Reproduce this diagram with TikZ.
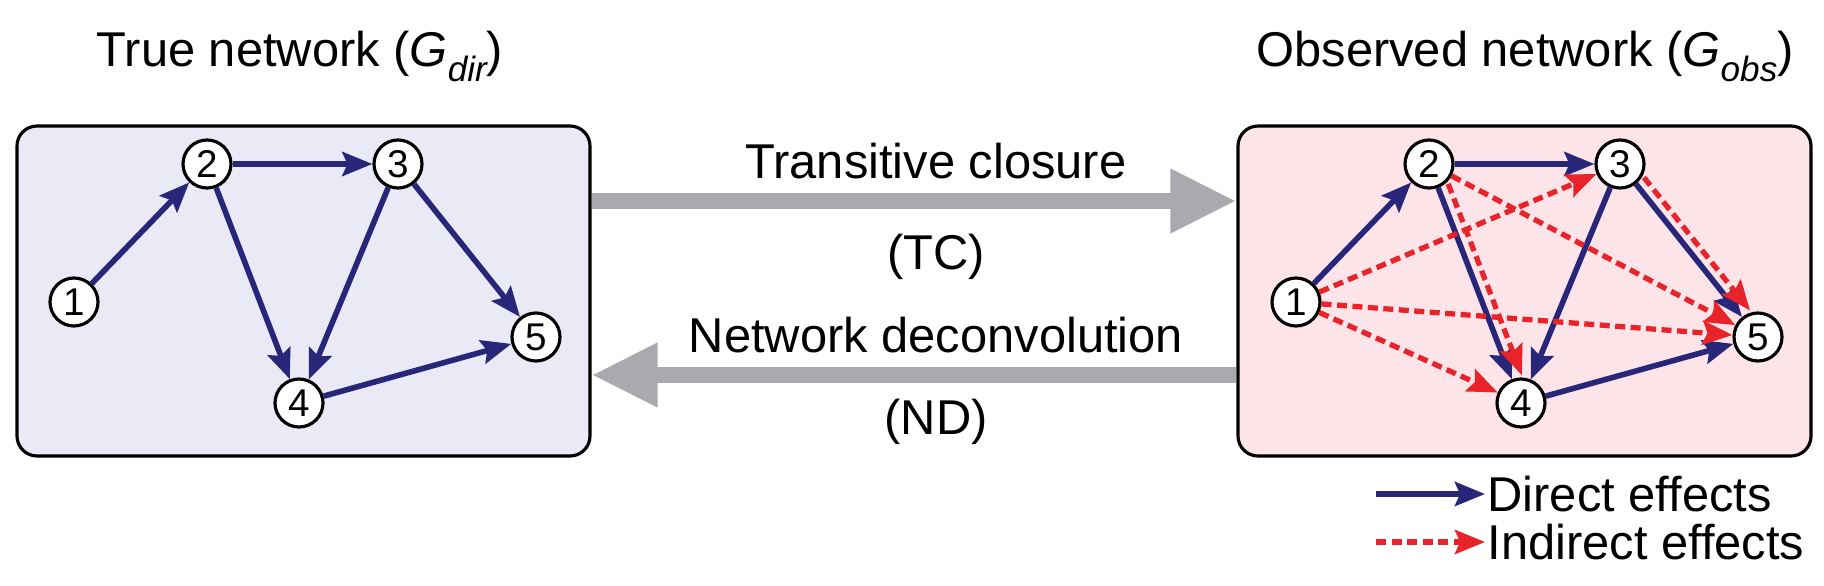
\documentclass[tikz,border=0pt]{standalone}
\usepackage{fontspec}
\setmainfont{Liberation Sans}
\usepackage{tikz}
\usetikzlibrary{arrows.meta,positioning,calc}

\definecolor{navyedge}{RGB}{40,38,120}
\definecolor{rededge}{RGB}{232,36,42}
\definecolor{truefill}{RGB}{234,233,246}
\definecolor{obsfill}{RGB}{252,228,233}
\definecolor{flowgray}{RGB}{168,170,173}
\newcommand{\gsub}[1]{\textit{G}\raisebox{-0.6ex}{\fontsize{10}{10}\selectfont\itshape #1}}

\begin{document}
\begin{tikzpicture}[
    every node/.style={font=\fontsize{13.9}{16}\selectfont},
    vertex/.style={draw, circle, fill=white, line width=0.9pt, inner sep=0pt, minimum size=0.48cm, font=\fontsize{11}{11}\selectfont},
    panel/.style={draw, rounded corners=0.2cm, line width=0.9pt, minimum width=5.73cm, minimum height=3.3cm},
    direct/.style={navyedge, line width=1.6pt, -{Stealth[length=0.3cm, width=0.24cm, inset=0.05cm]}},
    indirect/.style={rededge, line width=1.5pt, dash pattern=on 0.1cm off 0.055cm, -{Stealth[length=0.3cm, width=0.24cm, inset=0.05cm]}},
    bigarrow/.style={flowgray, line width=0.16cm, -{Triangle[length=0.66cm, width=0.6cm]}}]
    \useasboundingbox (0,0) rectangle (18.24,-5.86);

    % the two panels
    \node[panel, fill=truefill] (truebox) at (3.035,-2.91) {};
    \node[panel, fill=obsfill] (obsbox) at (15.245,-2.91) {};
    \node[anchor=base] (truetitle) at (3.0,-0.66) {True network (\gsub{dir})};
    \node[anchor=base] (obstitle) at (15.25,-0.66) {Observed network (\gsub{obs})};

    % TC and ND
    \draw[bigarrow] ([yshift=0.9cm]truebox.east) -- ([yshift=0.9cm]obsbox.west);
    \draw[bigarrow] ([yshift=-0.84cm]obsbox.west) -- ([yshift=-0.84cm]truebox.east);
    \node[anchor=base] (tclabel) at (9.36,-1.78) {Transitive closure};
    \node[anchor=base] (tcshort) at (9.36,-2.69) {(TC)};
    \node[anchor=base] (ndlabel) at (9.36,-3.52) {Network deconvolution};
    \node[anchor=base] (ndshort) at (9.36,-4.34) {(ND)};

    % true network
    \node[vertex] (t1) at (0.74,-3.02) {1};
    \node[vertex] (t2) at (2.07,-1.64) {2};
    \node[vertex] (t3) at (3.98,-1.64) {3};
    \node[vertex] (t4) at (2.99,-4.03) {4};
    \node[vertex] (t5) at (5.36,-3.37) {5};
    \draw[direct] (t1) -- (t2);
    \draw[direct] (t2) -- (t3);
    \draw[direct] (t2) -- (t4);
    \draw[direct] (t3) -- (t4);
    \draw[direct] (t3) -- (t5);
    \draw[direct] (t4) -- (t5);

    % observed network
    \node[vertex] (o1) at (12.96,-3.02) {1};
    \node[vertex] (o2) at (14.29,-1.64) {2};
    \node[vertex] (o3) at (16.20,-1.64) {3};
    \node[vertex] (o4) at (15.21,-4.03) {4};
    \node[vertex] (o5) at (17.58,-3.37) {5};
    \draw[direct] (o1) -- (o2);
    \draw[direct] (o2) -- (o3);
    \draw[direct] (o2) -- (o4);
    \draw[direct] (o3) -- (o4);
    \draw[direct] (o3) -- (o5);
    \draw[direct] (o4) -- (o5);
    \draw[indirect] (o1) -- (o3);
    \draw[indirect] (o1) -- (o4);
    \draw[indirect] (o1) -- (o5);
    \draw[indirect] (o2) -- (o5);
    \draw[indirect, transform canvas={shift={(0.1,0.04)}}] (o2) -- (o4);
    \draw[indirect, transform canvas={shift={(0.08,0.065)}}] (o3) -- (o5);

    % legend
    \coordinate (dstart) at (13.76,-4.94);
    \coordinate (istart) at (13.76,-5.42);
    \node[anchor=west, inner sep=0.5pt] (dlabel) at (14.85,-4.94) {Direct effects};
    \node[anchor=west, inner sep=0.5pt] (ilabel) at (14.85,-5.42) {Indirect effects};
    \draw[direct] (dstart) -- (dlabel.west);
    \draw[indirect] (istart) -- (ilabel.west);
\end{tikzpicture}
\end{document}
